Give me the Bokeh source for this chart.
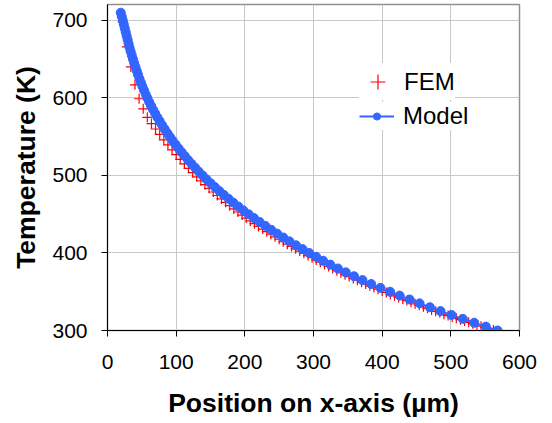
from bokeh.plotting import figure
from bokeh.models import Range1d, Legend, LegendItem, FixedTicker
from bokeh.embed import file_html
from bokeh.resources import INLINE

# Model curve (temperature in K, position in micrometres)
model_T = [710, 705, 700, 695, 690, 685, 680, 675, 670, 665, 660, 655, 650, 645, 640,
           635, 630, 625, 620, 615, 610, 605, 600, 595, 590, 585, 580, 575, 570, 565,
           560, 555, 550, 545, 540, 535, 530, 525, 520, 515, 510, 505, 500, 495, 490,
           485, 480, 475, 470, 465, 460, 455, 450, 445, 440, 435, 430, 425, 420, 415,
           410, 405, 400, 395, 390, 385, 380, 375, 370, 365, 360, 355, 350, 345, 340,
           335, 330, 325, 320, 315, 310, 305, 300]
model_x = [19.3, 20.8, 22.3, 23.7, 25.1, 26.5, 27.9, 29.3, 30.7, 32.1, 33.7, 35.4, 37.1, 38.9, 40.7,
           42.6, 44.5, 46.5, 48.6, 50.8, 53.1, 55.5, 58.0, 60.6, 63.4, 66.3, 69.4, 72.6, 76.0, 79.5,
           83.1, 86.9, 90.8, 94.9, 99.1, 103.5, 108.0, 112.6, 117.4, 122.4, 127.6, 132.9, 138.4, 144.2, 150.2,
           156.4, 162.8, 169.4, 176.2, 183.2, 190.4, 197.8, 205.5, 213.4, 221.5, 229.8, 238.3, 247.0, 255.9, 265.0,
           274.4, 284.0, 293.8, 304.0, 314.0, 324.5, 335.5, 347.0, 359.0, 371.3, 384.0, 397.5, 411.5, 425.5, 440.0,
           454.5, 469.5, 485.0, 501.0, 517.5, 534.0, 551.0, 568.0]

# FEM results
fem_x = [22, 28, 34, 40, 46, 52, 58, 64, 70, 76, 82, 88, 94, 100, 106, 112, 118, 124, 130, 136,
         142, 148, 154, 160, 166, 172, 178, 184, 190, 196, 202, 208, 214, 220, 226, 232, 238, 244,
         250, 256, 262, 268, 274, 280, 286, 292, 298, 304, 310, 316, 322, 328, 334, 340, 346, 352,
         358, 364, 370, 376, 382, 388, 394, 400, 406, 412, 418, 424, 430, 436, 442, 448, 454, 460,
         466, 472, 478, 484, 490, 496, 502, 508, 514, 520, 526, 532, 538, 544, 550, 556, 562, 568]
fem_T = [698, 666, 640, 617, 599, 586, 575, 567, 560, 553, 546, 539.6, 533.1, 527, 520.9, 515,
         509.2, 503.7, 498.3, 493.2, 488.2, 483.4, 478.7, 474.2, 469.8, 465.4, 461.1, 456.9, 452.9,
         448.9, 445.1, 441.4, 437.8, 434.3, 430.9, 427.5, 424.2, 420.9, 417.7, 414.5, 411.4, 408.4,
         405.4, 402.5, 399.6, 396.7, 393.9, 391.1, 388.2, 385.3, 382.6, 379.9, 377.2, 374.6, 372,
         369.6, 367.1, 364.8, 362.3, 360, 357.7, 355.4, 353.3, 351.1, 349, 346.8, 344.8, 342.6,
         340.5, 338.6, 336.5, 334.4, 332.5, 330.5, 328.6, 326.6, 324.8, 322.8, 321, 319.2, 317.4,
         315.7, 314, 312.2, 310.5, 308.8, 307.1, 305.5, 303.8, 302.2, 300.6, 299]

x_ticks = [0, 100, 200, 300, 400, 500, 600]
y_ticks = [300, 400, 500, 600, 700]

BLUE = "#3366ff"
RED = "#ff0000"
FONT = "Liberation Sans"

p = figure(frame_width=412, frame_height=326,
           min_border_left=107, min_border_right=20, min_border_top=4, min_border_bottom=90,
           x_range=Range1d(0, 600), y_range=Range1d(300, 720.6),
           output_backend="svg", toolbar_location=None)

p.background_fill_color = "white"
p.outline_line_color = "#909090"
p.outline_line_width = 1.5
p.grid.grid_line_color = "#c8c8c8"
p.grid.grid_line_width = 1

p.xaxis.ticker = FixedTicker(ticks=x_ticks)
p.yaxis.ticker = FixedTicker(ticks=y_ticks)
for ax in (p.xaxis[0], p.yaxis[0]):
    ax.major_label_text_font = FONT
    ax.major_label_text_font_size = "21px"
    ax.major_label_text_color = "black"
    ax.axis_label_text_font = FONT
    ax.axis_label_text_font_size = "26.5px"
    ax.axis_label_text_font_style = "bold"
    ax.axis_label_text_color = "black"
    ax.axis_line_color = "black"
    ax.major_tick_line_color = "black"
    ax.major_tick_out = 6
    ax.major_tick_in = 0
    ax.minor_tick_line_color = None

p.xaxis.major_label_standoff = 18
p.yaxis.major_label_standoff = 14
p.xaxis.axis_label = "Position on x-axis (µm)"
p.yaxis.axis_label = "Temperature (K)"
p.xaxis.axis_label_standoff = 16
p.yaxis.axis_label_standoff = 8

fem = p.scatter(fem_x, fem_T, marker="cross", size=10, line_color=RED, line_width=1.2)
mline = p.line(model_x, model_T, line_color=BLUE, line_width=2)
mpts = p.scatter(model_x, model_T, marker="circle", size=9, fill_color=BLUE, line_color=BLUE)

common = dict(border_line_color=None, background_fill_color="white", background_fill_alpha=1.0,
              label_text_font=FONT, label_text_font_size="24px", label_text_color="black",
              margin=0, spacing=0)

leg1 = Legend(items=[LegendItem(label="FEM", renderers=[fem])], location=(252, 230),
              glyph_width=37, glyph_height=37, label_standoff=8,
              padding=dict(left=7, right=27, top=3, bottom=6), **common)
leg2 = Legend(items=[LegendItem(label="Model", renderers=[mline, mpts])], location=(252, 200),
              glyph_width=35, glyph_height=18, label_standoff=9,
              padding=dict(left=7, right=10, top=4, bottom=3), **common)
p.add_layout(leg1)
p.add_layout(leg2)

open("out.html", "w").write(file_html(p, INLINE))
